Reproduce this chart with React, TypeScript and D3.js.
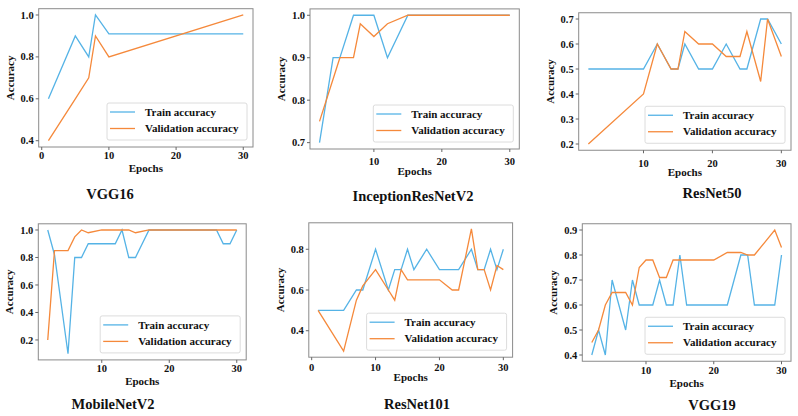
import { extent, line, scaleLinear } from 'd3'

// epochs and accuracies
const vgg16Epochs = [1, 5, 7, 8, 10, 30]
const vgg16Train = [0.6, 0.9, 0.8, 1.0, 0.91, 0.91]
const vgg16Val = [0.4, 0.6, 0.7, 0.9, 0.8, 1.0]

const inceptionEpochs = [2, 4, 5, 7, 8, 10, 12, 15, 30]
const inceptionTrain = [0.7, 0.9, 0.9, 1.0, 1.0, 1.0, 0.9, 1.0, 1.0]
const inceptionVal = [0.75, 0.85, 0.9, 0.9, 0.98, 0.95, 0.98, 1.0, 1.0]

const resnet50Epochs = [2, 10, 12, 14, 15, 16, 18, 20, 22, 24, 25, 27, 28, 30]
const resnet50Train = [0.5, 0.5, 0.6, 0.5, 0.5, 0.6, 0.5, 0.5, 0.6, 0.5, 0.5, 0.7, 0.7, 0.6]
const resnet50Val = [0.2, 0.4, 0.6, 0.5, 0.5, 0.65, 0.6, 0.6, 0.55, 0.55, 0.65, 0.45, 0.7, 0.55]

const mobileEpochs = [2, 3, 5, 6, 7, 8, 10, 12, 13, 14, 15, 17, 27, 28, 29, 30]
const mobileTrain = [1.0, 0.82, 0.1, 0.8, 0.8, 0.9, 0.9, 0.9, 1.0, 0.8, 0.8, 1.0, 1.0, 0.9, 0.9, 1.0]
const mobileVal = [0.2, 0.85, 0.85, 0.95, 1.0, 0.98, 1.0, 1.0, 1.0, 1.0, 0.98, 1.0, 1.0, 1.0, 1.0, 1.0]

const resnet101Epochs = [1, 5, 7, 8, 10, 12, 13, 14, 15, 16, 18, 20, 22, 23, 25, 26, 27, 28, 29, 30]
const resnet101Train = [0.5, 0.5, 0.6, 0.6, 0.8, 0.6, 0.7, 0.7, 0.8, 0.7, 0.8, 0.7, 0.7, 0.7, 0.8, 0.7, 0.7, 0.8, 0.7, 0.8]
const resnet101Val = [0.5, 0.3, 0.55, 0.62, 0.7, 0.6, 0.55, 0.7, 0.65, 0.65, 0.65, 0.65, 0.6, 0.6, 0.9, 0.7, 0.7, 0.6, 0.72, 0.7]

const vgg19Epochs = [2, 3, 4, 5, 7, 8, 9, 10, 11, 12, 13, 14, 15, 16, 20, 22, 24, 25, 26, 29, 30]
const vgg19Train = [0.4, 0.5, 0.4, 0.7, 0.5, 0.7, 0.6, 0.6, 0.6, 0.7, 0.6, 0.6, 0.8, 0.6, 0.6, 0.6, 0.8, 0.8, 0.6, 0.6, 0.8]
const vgg19Val = [0.45, 0.5, 0.6, 0.65, 0.65, 0.6, 0.75, 0.78, 0.78, 0.71, 0.71, 0.78, 0.78, 0.78, 0.78, 0.81, 0.81, 0.8, 0.8, 0.9, 0.83]

const xTickValues = [0, 10, 20, 30]
const legendLabels = ['Train accuracy', 'Validation accuracy']

const panels = [
  { title: 'VGG16', epochs: vgg16Epochs, train: vgg16Train, val: vgg16Val, yTicks: ['0.4', '0.6', '0.8', '1.0'],
    box: [38.7, 8.7, 253, 147], tickDy: 12, labelDy: 24.7, titleY: 199, titleX: 110 },
  { title: 'InceptionResNetV2', epochs: inceptionEpochs, train: inceptionTrain, val: inceptionVal, yTicks: ['0.7', '0.8', '0.9', '1.0'],
    box: [310, 8.9, 519.3, 149], tickDy: 15.5, labelDy: 26, titleY: 201, titleX: 413 },
  { title: 'ResNet50', epochs: resnet50Epochs, train: resnet50Train, val: resnet50Val, yTicks: ['0.2', '0.3', '0.4', '0.5', '0.6', '0.7'],
    box: [578.7, 12.75, 791, 150.25], tickDy: 16.5, labelDy: 26, titleY: 198, titleX: 712 },
  { title: 'MobileNetV2', epochs: mobileEpochs, train: mobileTrain, val: mobileVal, yTicks: ['0.2', '0.4', '0.6', '0.8', '1.0'],
    box: [38.3, 223.8, 246.2, 359.9], tickDy: 12.5, labelDy: 25, titleY: 409, titleX: 113 },
  { title: 'ResNet101', epochs: resnet101Epochs, train: resnet101Train, val: resnet101Val, yTicks: ['0.4', '0.6', '0.8'],
    box: [308.8, 222.8, 512.6, 357.2], tickDy: 14, labelDy: 24, titleY: 409, titleX: 417 },
  { title: 'VGG19', epochs: vgg19Epochs, train: vgg19Train, val: vgg19Val, yTicks: ['0.4', '0.5', '0.6', '0.7', '0.8', '0.9'],
    box: [582.3, 223.75, 791, 361.25], tickDy: 13, labelDy: 26, titleY: 410, titleX: 712 },
]

const font = "'Liberation Serif', 'Times New Roman', serif"
const blue = '#55b3e6'
const orange = '#f5893b'

function padded([lo, hi]: [number, number]) {
  const m = (hi - lo) * 0.05
  return [lo - m, hi + m]
}

function Panel({ p }: { p: (typeof panels)[number] }) {
  const [x0, y0, x1, y1] = p.box
  const xScale = scaleLinear().domain(padded(extent(p.epochs) as [number, number])).range([x0, x1])
  const yScale = scaleLinear()
    .domain(padded(extent([...p.train, ...p.val]) as [number, number]))
    .range([y1, y0])
  const [dLo, dHi] = xScale.domain()
  const xTicks = xTickValues.filter((t) => t >= dLo && t <= dHi)
  const path = (vals: number[]) =>
    line<number>()
      .x((_, i) => xScale(p.epochs[i]))
      .y((v) => yScale(v))(vals) ?? ''

  const lw = 140
  const lh = 37
  const lx = x1 - 6 - lw
  const ly = y1 - 7 - lh

  return (
    <g fontFamily={font} fontWeight="bold" fill="#111">
      <path d={path(p.train)} fill="none" stroke={blue} strokeWidth={1.3} />
      <path d={path(p.val)} fill="none" stroke={orange} strokeWidth={1.3} />
      <rect x={x0} y={y0} width={x1 - x0} height={y1 - y0} fill="none" stroke="#8a8a8a" strokeWidth={1} />
      {xTicks.map((t) => (
        <g key={t}>
          <line x1={xScale(t)} x2={xScale(t)} y1={y1} y2={y1 + 3} stroke="#666" />
          <text x={xScale(t)} y={y1 + p.tickDy} textAnchor="middle" fontSize={10.5}>{t}</text>
        </g>
      ))}
      {p.yTicks.map((t) => (
        <g key={t}>
          <line x1={x0 - 3} x2={x0} y1={yScale(+t)} y2={yScale(+t)} stroke="#666" />
          <text x={x0 - 5} y={yScale(+t)} dy="0.34em" textAnchor="end" fontSize={10.5}>{t}</text>
        </g>
      ))}
      <text x={(x0 + x1) / 2} y={y1 + p.labelDy} textAnchor="middle" fontSize={11}>Epochs</text>
      <text
        transform={`translate(${x0 - 25},${(y0 + y1) / 2}) rotate(-90)`}
        textAnchor="middle"
        fontSize={11}
      >
        Accuracy
      </text>
      <rect x={lx} y={ly} width={lw} height={lh} rx={2} fill="#fff" fillOpacity={0.85} stroke="#dcdcdc" />
      {legendLabels.map((label, i) => (
        <g key={label}>
          <line x1={lx + 3} x2={lx + 28} y1={ly + 9 + i * 16.5} y2={ly + 9 + i * 16.5} stroke={i === 0 ? blue : orange} strokeWidth={1.3} />
          <text x={lx + 38} y={ly + 9 + i * 16.5} dy="0.34em" fontSize={11}>{label}</text>
        </g>
      ))}
      <text x={p.titleX} y={p.titleY} textAnchor="middle" fontSize={14.5}>{p.title}</text>
    </g>
  )
}

export default function App() {
  return (
    <div style={{ position: 'absolute', left: 0, top: 0 }}>
      <svg width={798} height={416} viewBox="0 0 798 416" style={{ display: 'block', background: '#fff' }}>
        {panels.map((p) => (
          <Panel key={p.title} p={p} />
        ))}
      </svg>
    </div>
  )
}
